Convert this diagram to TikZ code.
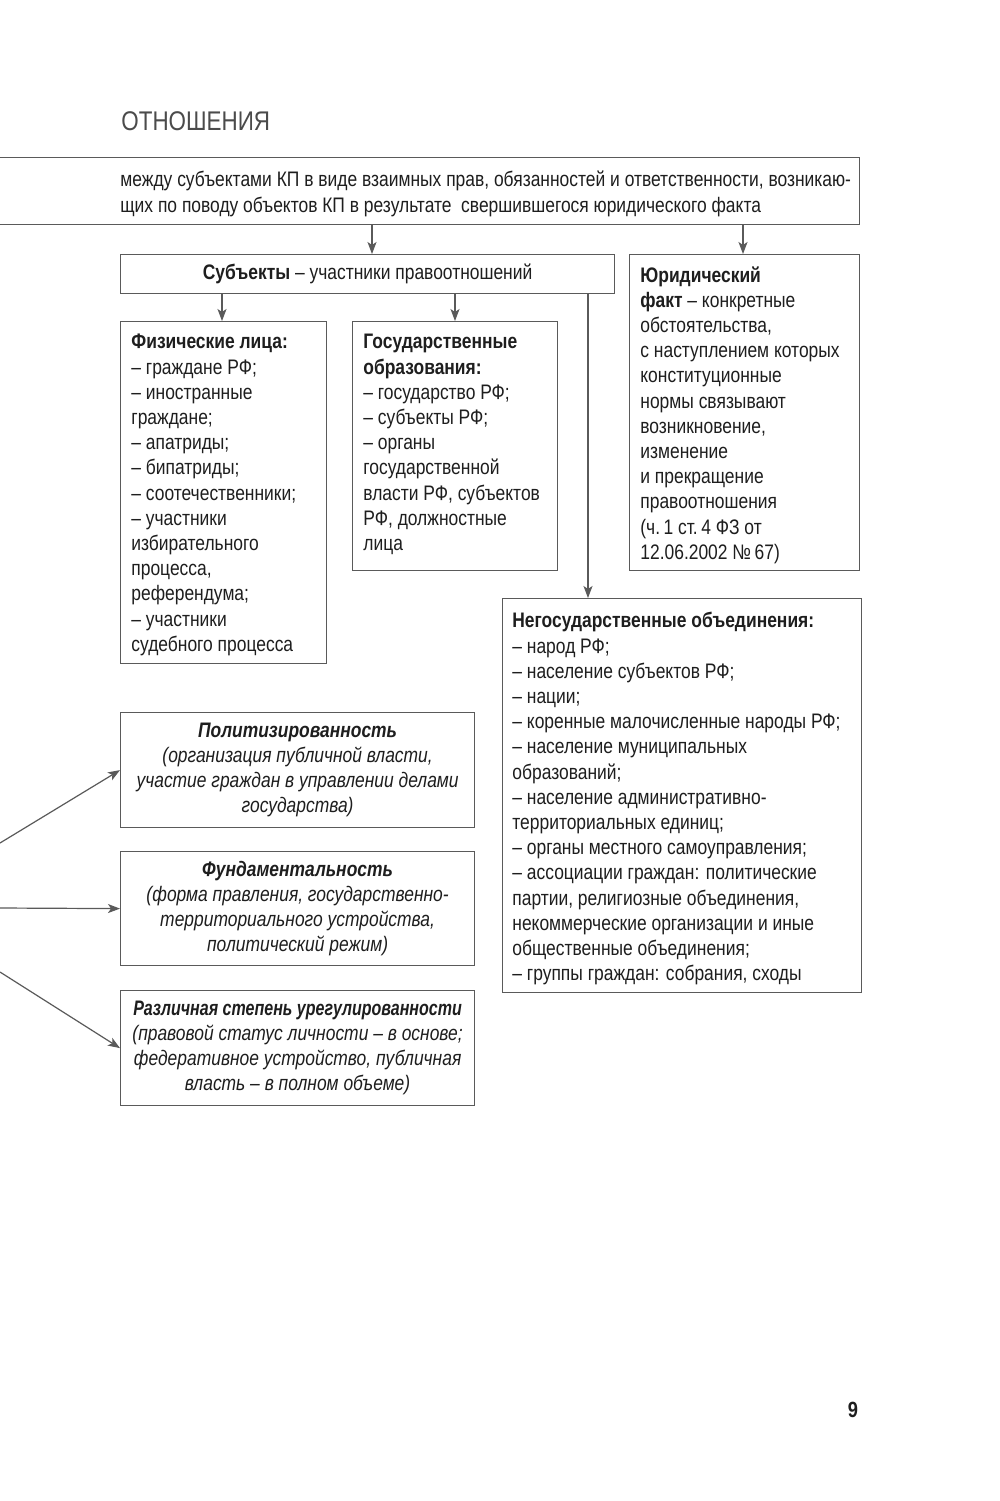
\documentclass[tikz,border=0pt]{standalone}
\usepackage{graphicx}
\usepackage{fontspec}
\setmainfont{Liberation Sans}[FakeStretch=0.83]
\usetikzlibrary{arrows.meta}
\definecolor{txt}{HTML}{1E1E1E}
\definecolor{ln}{HTML}{5A5A5A}
\newcommand\bodyfont{\fontsize{10.5}{12.6}\selectfont}
\tikzset{
  frame/.style={draw=ln, line width=0.6pt, anchor=north west, inner sep=0pt, text=txt},
  txtblock/.style={anchor=north west, inner sep=0pt, align=left, text=txt, font=\bodyfont},
  centerbox/.style={frame, align=center, font=\bodyfont\itshape, minimum width=177pt},
  arr/.style={draw=ln, line width=0.6pt, -{Stealth[length=6pt,width=4.5pt,inset=1.5pt]}},
}
\begin{document}
\begin{tikzpicture}[x=0.5pt,y=-0.5pt]
\useasboundingbox (0,0) rectangle (1000,1501);
\fill[white] (0,0) rectangle (1000,1501);

% title
\node[anchor=north west, inner sep=0pt, text=txt!80, font=\fontsize{13.5}{16}\selectfont] (title) at (121,111) {ОТНОШЕНИЯ};

% top box
\node[frame, minimum width=434.5pt, minimum height=33.5pt] (top) at (-10,157) {};
\node[txtblock] (topT) at (120,171) {между субъектами КП в виде взаимных прав, обязанностей и ответственности, возникаю-\\щих по поводу объектов КП в результате\ \ свершившегося юридического факта};

% subjects
\node[frame, minimum width=247pt, minimum height=19.5pt, font=\bodyfont] (subj) at (120,254) {\textbf{Субъекты} – участники правоотношений};

% physical persons
\node[frame, minimum width=103pt, minimum height=171pt] (fiz) at (120,321) {};
\node[txtblock] (fizT) at (131,334) {\textbf{Физические лица:}\\
– граждане РФ;\\
– иностранные\\
граждане;\\
– апатриды;\\
– бипатриды;\\
– соотечественники;\\
– участники\\
избирательного\\
процесса,\\
референдума;\\
– участники\\
судебного процесса};

% state formations
\node[frame, minimum width=102.5pt, minimum height=124.5pt] (gos) at (352,321) {};
\node[txtblock] (gosT) at (363,334) {\textbf{Государственные}\\
\textbf{образования:}\\
– государство РФ;\\
– субъекты РФ;\\
– органы\\
государственной\\
власти РФ, субъектов\\
РФ, должностные\\
лица};

% legal fact
\node[frame, minimum width=115pt, minimum height=158pt] (jur) at (629,254) {};
\node[txtblock] (jurT) at (640,266) {\textbf{Юридический}\\
\textbf{факт} – конкретные\\
обстоятельства,\\
с наступлением которых\\
конституционные\\
нормы связывают\\
возникновение,\\
изменение\\
и прекращение\\
правоотношения\\
(ч.\,1 ст.\,4 ФЗ от\\
12.06.2002 №\,67)};

% non-state associations
\node[frame, minimum width=179.5pt, minimum height=197pt] (neg) at (502,598) {};
\node[txtblock] (negT) at (512,612) {\textbf{Негосударственные объединения:}\\
– народ РФ;\\
– население субъектов РФ;\\
– нации;\\
– коренные малочисленные народы РФ;\\
– население муниципальных\\
образований;\\
– население административно-\\
территориальных единиц;\\
– органы местного самоуправления;\\
– ассоциации граждан: политические\\
партии, религиозные объединения,\\
некоммерческие организации и иные\\
общественные объединения;\\
– группы граждан: собрания, сходы};

% left boxes
\node[centerbox, minimum height=57.5pt] (pol) at (120,712) {\textbf{Политизированность}\\(организация публичной власти,\\участие граждан в управлении делами\\государства)};
\node[centerbox, minimum height=57pt] (fund) at (120,851) {\textbf{Фундаментальность}\\(форма правления, государственно-\\территориального устройства,\\политический режим)};
\node[centerbox, minimum height=57.5pt] (diff) at (120,990) {\scalebox{0.92}[1]{\textbf{Различная степень урегулированности}}\\(правовой статус личности – в основе;\\федеративное устройство, публичная\\власть – в полном объеме)};

% page number
\node[inner sep=0pt, text=txt, font=\fontsize{11}{13}\selectfont\bfseries] (page) at (853,1410) {9};

% connectors
\coordinate (c1) at (372,0);
\coordinate (c2) at (743,0);
\coordinate (c3) at (222,0);
\coordinate (c4) at (455,0);
\coordinate (c5) at (588,0);
\draw[arr] (top.south -| c1) -- (subj.north -| c1);
\draw[arr] (top.south -| c2) -- (jur.north -| c2);
\draw[arr] (subj.south -| c3) -- (fiz.north -| c3);
\draw[arr] (subj.south -| c4) -- (gos.north -| c4);
\draw[arr] (subj.south -| c5) -- (neg.north -| c5);

\coordinate (L1) at (0,843);
\coordinate (L2) at (0,908);
\coordinate (L3) at (0,972);
\draw[arr] (L1) -- (pol.west);
\draw[arr] (L2) -- (fund.west);
\draw[arr] (L3) -- (diff.west);
\end{tikzpicture}
\end{document}
